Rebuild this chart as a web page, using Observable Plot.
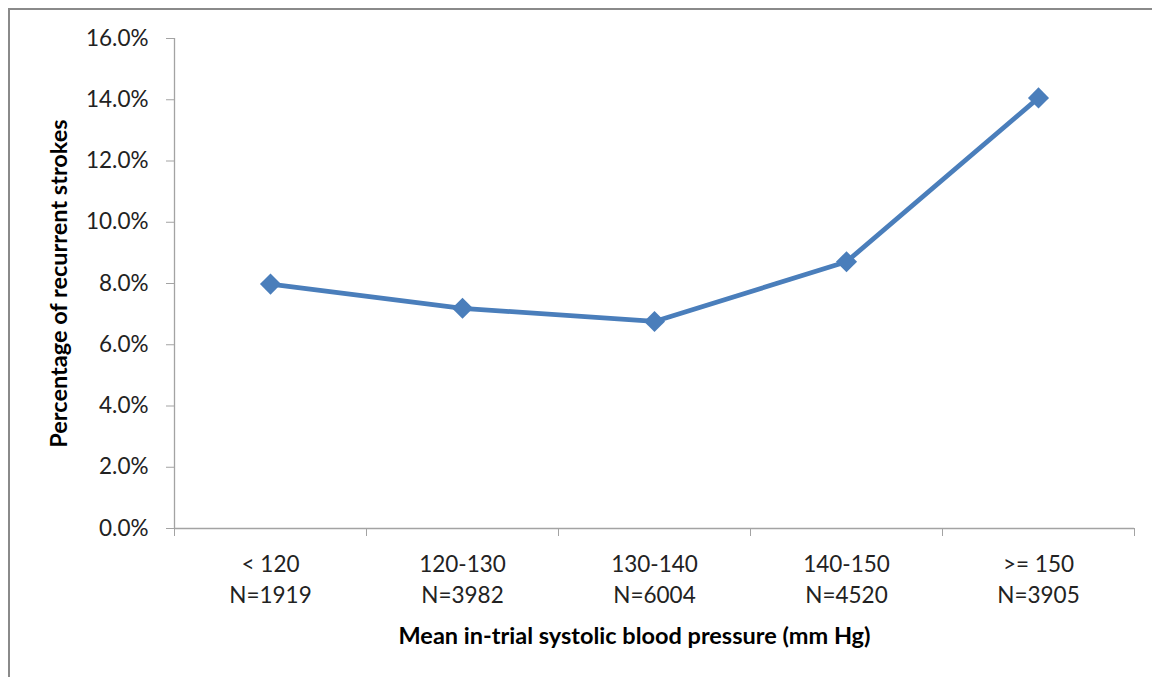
<!DOCTYPE html>
<html>
<head>
<meta charset="utf-8">
<script src="https://cdn.jsdelivr.net/npm/d3@7"></script>
<script src="https://cdn.jsdelivr.net/npm/@observablehq/plot@0.6"></script>
<style>
  html, body { margin: 0; padding: 0; background: #fff; }
  #wrap { position: relative; width: 1152px; height: 677px; overflow: hidden; }
  #frame { position: absolute; left: 8px; top: 8px; right: -10px; bottom: -10px;
           border-left: 2px solid #8a8a8a; border-top: 2px solid #8a8a8a; pointer-events: none; }
  #chart { position: absolute; left: 0; top: 0; }
</style>
</head>
<body>
<div id="wrap"><div id="chart"></div><div id="frame"></div></div>
<script>
const categories = ["< 120", "120-130", "130-140", "140-150", ">= 150"];
const counts = ["N=1919", "N=3982", "N=6004", "N=4520", "N=3905"];
const rates = [0.0798, 0.0719, 0.0676, 0.0871, 0.1406];
const yTicks = [0, 0.02, 0.04, 0.06, 0.08, 0.10, 0.12, 0.14, 0.16];
const xTitle = "Mean in-trial systolic blood pressure (mm Hg)";
const yTitle = "Percentage of recurrent strokes";

const data = categories.map((c, i) => ({pos: i + 0.5, rate: rates[i], cat: c, n: counts[i]}));
const boundaries = d3.range(0, categories.length + 1);

const axisColor = "#a3a3a3";
const lineColor = "#4a7ebb";

const chart = Plot.plot({
  width: 1152,
  height: 677,
  marginLeft: 174,
  marginRight: 18,
  marginTop: 38,
  marginBottom: 149,
  style: {fontFamily: "Lato, 'Open Sans', sans-serif", fontSize: "22px", color: "#222", background: "transparent"},
  x: {type: "linear", domain: [0, categories.length], label: null},
  y: {domain: [0, 0.16], label: null},
  marks: [
    Plot.ruleX([0], {stroke: axisColor, strokeWidth: 1.3}),
    Plot.ruleY([0], {stroke: axisColor, strokeWidth: 1.3}),
    Plot.axisY({ticks: yTicks, tickFormat: d3.format(".1%"), tickSize: 8, tickPadding: 18,
                stroke: axisColor, fill: "#222", fontSize: 22.5, label: null}),
    Plot.axisX({ticks: boundaries, tickSize: 8, tickFormat: () => "", stroke: axisColor, label: null}),
    Plot.axisX({ticks: data.map(d => d.pos), tickSize: 0, tickPadding: 22, lineHeight: 1.36,
                fill: "#222", fontSize: 22.5, label: null,
                tickFormat: (x) => { const i = Math.floor(x); return categories[i] + "\n" + counts[i]; }}),
    Plot.line(data, {x: "pos", y: "rate", stroke: lineColor, strokeWidth: 4.8}),
    Plot.dot(data, {x: "pos", y: "rate", symbol: "diamond2", r: 9.5, fill: lineColor, stroke: "none"}),
    Plot.text([xTitle], {frameAnchor: "bottom", lineAnchor: "middle", textAnchor: "middle", dx: -20, dy: 108, text: d => d,
                         fontWeight: "bold", fontSize: 23.5, fill: "#000"}),
    Plot.text([yTitle], {frameAnchor: "left", lineAnchor: "middle", textAnchor: "middle", dx: -115, rotate: -90, text: d => d,
                         fontWeight: "bold", fontSize: 23.5, fill: "#000"})
  ]
});
document.getElementById("chart").appendChild(chart);
</script>
</body>
</html>
